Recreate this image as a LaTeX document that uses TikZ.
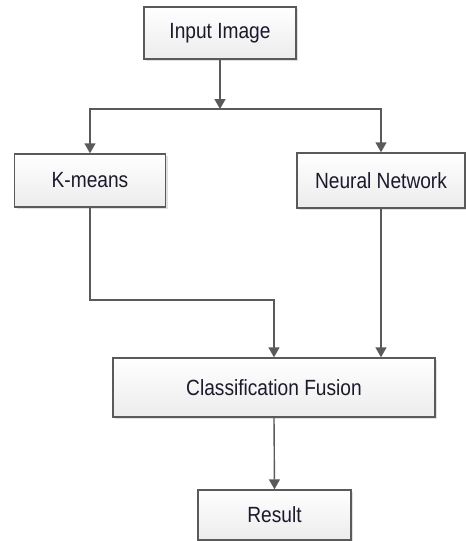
\documentclass[tikz,border=0pt]{standalone}
\usepackage{fontspec}
\newfontfamily\boxfont[FakeStretch=0.87]{Liberation Sans}
\usetikzlibrary{arrows.meta,shadows}
\definecolor{edgec}{HTML}{5A5A5A}
\definecolor{txtc}{HTML}{1A1A2C}
\begin{document}
\begin{tikzpicture}[x=1pt,y=-1pt,
  box/.style={draw=edgec, line width=1.4pt, rectangle, inner sep=0pt,
    top color=white, bottom color=gray!15,
    drop shadow={shadow xshift=2pt, shadow yshift=-2pt, fill=gray!60, opacity=0.4},
    font=\boxfont\fontsize{22pt}{25pt}\selectfont, text=txtc},
  arr/.style={draw=edgec, line width=1.4pt, -{Triangle[width=11pt,length=10pt]}}]
\useasboundingbox (0,0) rectangle (466,541);
\node[box, minimum width=152pt, minimum height=52pt] (in) at (220,33) {Input Image};
\node[box, minimum width=151pt, minimum height=53pt] (km) at (90,180.5) {K-means};
\node[box, minimum width=168pt, minimum height=55pt] (nn) at (381,180.5) {Neural Network};
\node[box, minimum width=322pt, minimum height=59pt] (cf) at (274,387.5) {Classification Fusion};
\node[box, minimum width=153pt, minimum height=50pt] (res) at (274.5,515) {Result};
\coordinate (split) at (220,109);
\coordinate (kbend) at (90,300);
\draw[arr] (in.south) -- (split);
\draw[arr] (split) -| (km.north);
\draw[arr] (split) -| (nn.north);
\draw[arr] (km.south) -- (kbend) -| (cf.north);
\draw[arr] (nn.south) -- (nn.south |- cf.north);
\draw[arr] (cf.south) -- (res.north);
\end{tikzpicture}
\end{document}
